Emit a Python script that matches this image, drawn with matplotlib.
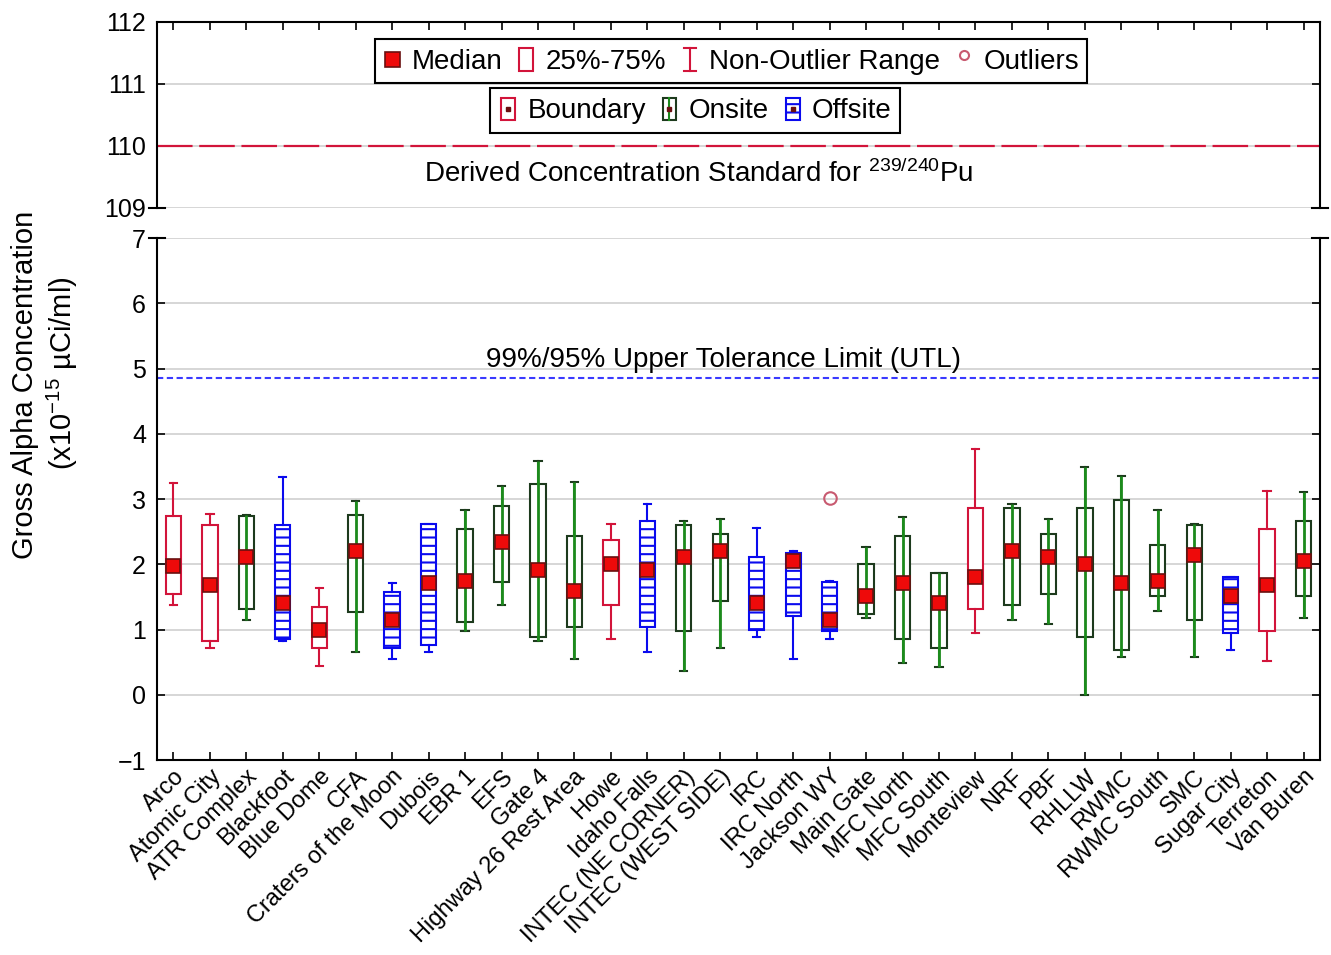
import numpy as np
import matplotlib
matplotlib.use("Agg")
import matplotlib.pyplot as plt
from matplotlib.patches import Rectangle
from matplotlib.lines import Line2D
from matplotlib.legend_handler import HandlerBase

plt.rcParams['font.family'] = ['Liberation Sans', 'DejaVu Sans']
plt.rcParams['mathtext.fontset'] = 'custom'
plt.rcParams['mathtext.rm'] = 'Liberation Sans'
plt.rcParams['mathtext.it'] = 'Liberation Sans:italic'
plt.rcParams['mathtext.bf'] = 'Liberation Sans:bold'
plt.rcParams['hatch.linewidth'] = 1.5

# ---- data -----------------------------------------------------------------
sites = ["Arco", "Atomic City", "ATR Complex", "Blackfoot", "Blue Dome", "CFA",
         "Craters of the Moon", "Dubois", "EBR 1", "EFS", "Gate 4",
         "Highway 26 Rest Area", "Howe", "Idaho Falls", "INTEC (NE CORNER)",
         "INTEC (WEST SIDE)", "IRC", "IRC North", "Jackson WY", "Main Gate",
         "MFC North", "MFC South", "Monteview", "NRF", "PBF", "RHLLW", "RWMC",
         "RWMC South", "SMC", "Sugar City", "Terreton", "Van Buren"]

site_group = ["Boundary", "Boundary", "Onsite", "Offsite", "Boundary", "Onsite",
              "Offsite", "Offsite", "Onsite", "Onsite", "Onsite",
              "Onsite", "Boundary", "Offsite", "Onsite",
              "Onsite", "Offsite", "Offsite", "Offsite", "Onsite",
              "Onsite", "Onsite", "Boundary", "Onsite", "Onsite", "Onsite", "Onsite",
              "Onsite", "Onsite", "Offsite", "Boundary", "Onsite"]

whisker_high = [3.24, 2.77, 2.75, 3.33, 1.64, 2.97, 1.71, 2.62, 2.83, 3.20, 3.59,
                3.26, 2.62, 2.92, 2.67, 2.70, 2.56, 2.20, 1.74, 2.27, 2.73, 1.87,
                3.76, 2.93, 2.70, 3.49, 3.36, 2.83, 2.61, 1.81, 3.12, 3.10]
q3 = [2.74, 2.60, 2.74, 2.60, 1.35, 2.76, 1.58, 2.61, 2.54, 2.89, 3.23,
      2.43, 2.37, 2.67, 2.60, 2.47, 2.11, 2.17, 1.73, 2.00, 2.43, 1.87,
      2.86, 2.86, 2.47, 2.86, 2.99, 2.30, 2.60, 1.81, 2.54, 2.67]
median = [1.97, 1.68, 2.11, 1.41, 1.00, 2.20, 1.15, 1.71, 1.74, 2.34, 1.91,
          1.59, 2.00, 1.91, 2.11, 2.21, 1.41, 2.05, 1.14, 1.51, 1.71, 1.41,
          1.81, 2.20, 2.11, 2.01, 1.71, 1.74, 2.14, 1.51, 1.68, 2.05]
q1 = [1.55, 0.82, 1.31, 0.86, 0.71, 1.27, 0.71, 0.77, 1.11, 1.73, 0.88,
      1.04, 1.37, 1.04, 0.98, 1.43, 1.00, 1.20, 0.98, 1.24, 0.85, 0.71,
      1.31, 1.37, 1.54, 0.88, 0.68, 1.51, 1.14, 0.95, 0.98, 1.51]
whisker_low = [1.38, 0.71, 1.14, 0.82, 0.44, 0.65, 0.55, 0.65, 0.98, 1.38, 0.82,
               0.55, 0.85, 0.65, 0.37, 0.71, 0.88, 0.55, 0.85, 1.18, 0.49, 0.42,
               0.95, 1.14, 1.08, 0.00, 0.58, 1.28, 0.58, 0.68, 0.52, 1.18]
outliers = {"Jackson WY": [3.02]}

dcs_value = 110.0      # derived concentration standard, 239/240Pu
utl_value = 4.85       # 99%/95% upper tolerance limit

y_ticks_top = [109, 110, 111, 112]
y_ticks_bottom = [-1, 0, 1, 2, 3, 4, 5, 6, 7]

# ---- styling ----------------------------------------------------------------
RED = '#d2143a'
GREEN = '#1c8a1c'
DKGREEN = '#1d3a1d'
BLUE = '#0a0aee'
MED_FACE = '#ee0a0a'
MED_EDGE = '#6a1010'
FLIER = '#c85a70'
GRID = '#d0d0d0'

styles = {
    "Boundary": dict(edge=RED, whisk=RED, cap=RED, hatch=None, through=False),
    "Onsite": dict(edge=DKGREEN, whisk=GREEN, cap=DKGREEN, hatch=None, through=True),
    "Offsite": dict(edge=BLUE, whisk=BLUE, cap=BLUE, hatch='--', through=False),
}

W, H = 1331, 955
fig = plt.figure(figsize=(W / 100, H / 100), dpi=100)
left, right = 157, 1320
ax_top = fig.add_axes([left / W, 1 - 208 / H, (right - left) / W, (208 - 22) / H])
ax_bot = fig.add_axes([left / W, 1 - 760 / H, (right - left) / W, (760 - 238) / H])

pos = np.arange(len(sites))
xlim = (-0.45, len(sites) - 1 + 0.45)

# ---- lower panel: box plots ----------------------------------------------------
for grp, st in styles.items():
    idx = [i for i, g in enumerate(site_group) if g == grp]
    stats = [dict(med=median[i], q1=q1[i], q3=q3[i],
                  whislo=whisker_low[i], whishi=whisker_high[i],
                  fliers=outliers.get(sites[i], [])) for i in idx]
    ax_bot.bxp(stats, positions=[pos[i] for i in idx], widths=0.42,
               capwidths=0.2, patch_artist=True, manage_ticks=False,
               boxprops=dict(facecolor='white', edgecolor=st['edge'],
                             linewidth=1.5, hatch=st['hatch']),
               whiskerprops=dict(color=st['whisk'], linewidth=1.5),
               capprops=dict(color=st['cap'], linewidth=1.5),
               medianprops=dict(visible=False),
               flierprops=dict(marker='o', markerfacecolor='none',
                               markeredgecolor=FLIER, markersize=9,
                               markeredgewidth=1.5))
    if st['through']:
        ax_bot.vlines([pos[i] for i in idx], [whisker_low[i] for i in idx],
                      [whisker_high[i] for i in idx], color=GREEN,
                      linewidth=2, zorder=3)

ax_bot.plot(pos, median, ls='none', marker='s', markersize=9.5,
            markerfacecolor=MED_FACE, markeredgecolor=MED_EDGE,
            markeredgewidth=1.2, zorder=5)

ax_bot.axhline(utl_value, color='#3a3aff', linewidth=1.5, dashes=(3, 1.7), zorder=1.5)
ax_bot.text(15.1, utl_value + 0.08, "99%/95% Upper Tolerance Limit (UTL)",
            ha='center', va='bottom', fontsize=20)

ax_bot.set_xlim(*xlim)
ax_bot.set_ylim(-1, 7)
ax_bot.set_yticks(y_ticks_bottom)
ax_bot.set_xticks(pos)
ax_bot.set_xticklabels(sites, rotation=45, ha='right', rotation_mode='anchor',
                       fontsize=17)
ax_bot.tick_params(axis='x', direction='in', length=6, width=1.2, pad=4,
                   top=False)
ax_bot.tick_params(axis='y', direction='in', length=6, width=1.2, left=True,
                   right=True, labelsize=18, pad=8)
ax_bot.grid(axis='y', color=GRID, linewidth=1.2, zorder=0)
ax_bot.set_axisbelow(True)
ax_bot.spines['top'].set_visible(False)

# ---- upper panel -------------------------------------------------------------
ax_top.axhline(dcs_value, color=RED, linewidth=1.6, dashes=(16, 3))
ax_top.text(14.4, 109.55, "Derived Concentration Standard for $^{239/240}$Pu",
            ha='center', va='center', fontsize=20)
ax_top.set_xlim(*xlim)
ax_top.set_ylim(109, 112)
ax_top.set_yticks(y_ticks_top)
ax_top.set_xticks(pos)
ax_top.tick_params(axis='x', direction='in', length=6, width=1.2, bottom=False,
                   top=True, labelbottom=False)
ax_top.tick_params(axis='y', direction='in', length=6, width=1.2, left=True,
                   right=True, labelsize=18, pad=8)
ax_top.grid(axis='y', color=GRID, linewidth=1.2, zorder=0)
ax_top.set_axisbelow(True)
ax_top.spines['bottom'].set_visible(False)

for ax in (ax_top, ax_bot):
    for sp in ax.spines.values():
        sp.set_linewidth(1.5)

# break marks where the axis is split
bm = 8 / (right - left)
for xa in (0, 1):
    ax_top.plot([xa - bm, xa + bm], [0, 0], transform=ax_top.transAxes,
                color='black', linewidth=1.5, clip_on=False)
    ax_bot.plot([xa - bm, xa + bm], [1, 1], transform=ax_bot.transAxes,
                color='black', linewidth=1.5, clip_on=False)

# ---- axis title --------------------------------------------------------------
fig.text(25 / W, 1 - 385 / H, "Gross Alpha Concentration", rotation=90,
         ha='center', va='center', fontsize=21)
fig.text(62 / W, 1 - 373 / H, r"(x10$^{-15}$ µCi/ml)", rotation=90,
         ha='center', va='center', fontsize=21)


# ---- legends ------------------------------------------------------------------
class IconHandler(HandlerBase):
    def __init__(self, kind):
        super().__init__()
        self.kind = kind

    def create_artists(self, legend, orig_handle, xdescent, ydescent, width,
                       height, fontsize, trans):
        cx = -xdescent + width / 2
        cy = -ydescent + height / 2
        bw, bh = 0.5 * fontsize, 0.8 * fontsize
        k = self.kind
        arts = []
        if k == 'median':
            s = 0.55 * fontsize
            arts.append(Rectangle((cx - s / 2, cy - s / 2), s, s,
                                  facecolor=MED_FACE, edgecolor=MED_EDGE, lw=1.2))
        elif k == 'iqr':
            arts.append(Rectangle((cx - bw / 2, cy - bh / 2), bw, bh,
                                  facecolor='white', edgecolor=RED, lw=1.5))
        elif k == 'range':
            c = 0.22 * fontsize
            arts.append(Line2D([cx, cx], [cy - bh / 2, cy + bh / 2], color=RED, lw=1.5))
            arts.append(Line2D([cx - c, cx + c], [cy + bh / 2] * 2, color=RED, lw=1.5))
            arts.append(Line2D([cx - c, cx + c], [cy - bh / 2] * 2, color=RED, lw=1.5))
        elif k == 'outlier':
            arts.append(Line2D([cx], [cy + 0.15 * fontsize], marker='o',
                               markerfacecolor='none', markeredgecolor=FLIER,
                               markersize=6.5, markeredgewidth=1.5))
        else:
            st = styles[k]
            arts.append(Rectangle((cx - bw / 2, cy - bh / 2), bw, bh,
                                  facecolor='white', edgecolor=st['edge'],
                                  lw=1.5, hatch=st['hatch']))
            if st['through']:
                arts.append(Line2D([cx, cx], [cy - bh / 2, cy + bh / 2],
                                   color=GREEN, lw=1.5))
            arts.append(Line2D([cx], [cy], marker='s', markersize=3.5,
                               markerfacecolor=MED_EDGE,
                               markeredgecolor=MED_EDGE))
        for a in arts:
            a.set_transform(trans)
        return arts


def make_legend(kinds, labels, center):
    handles = [Line2D([], []) for _ in kinds]
    hmap = {h: IconHandler(k) for h, k in zip(handles, kinds)}
    leg = fig.legend(handles, labels, handler_map=hmap, loc='center',
                     bbox_to_anchor=center, ncol=len(kinds), frameon=True,
                     fancybox=False, edgecolor='black', framealpha=1,
                     fontsize=20, handlelength=0.7, handleheight=1.0,
                     handletextpad=0.35, columnspacing=0.5, borderpad=0.3,
                     borderaxespad=0)
    leg.get_frame().set_linewidth(1.5)
    return leg


make_legend(['median', 'iqr', 'range', 'outlier'],
            ["Median", "25%-75%", "Non-Outlier Range", "Outliers"],
            (731 / W, 1 - 61 / H))
make_legend(["Boundary", "Onsite", "Offsite"],
            ["Boundary", "Onsite", "Offsite"],
            (695 / W, 1 - 110.5 / H))

fig.savefig("out.png", dpi=100)
